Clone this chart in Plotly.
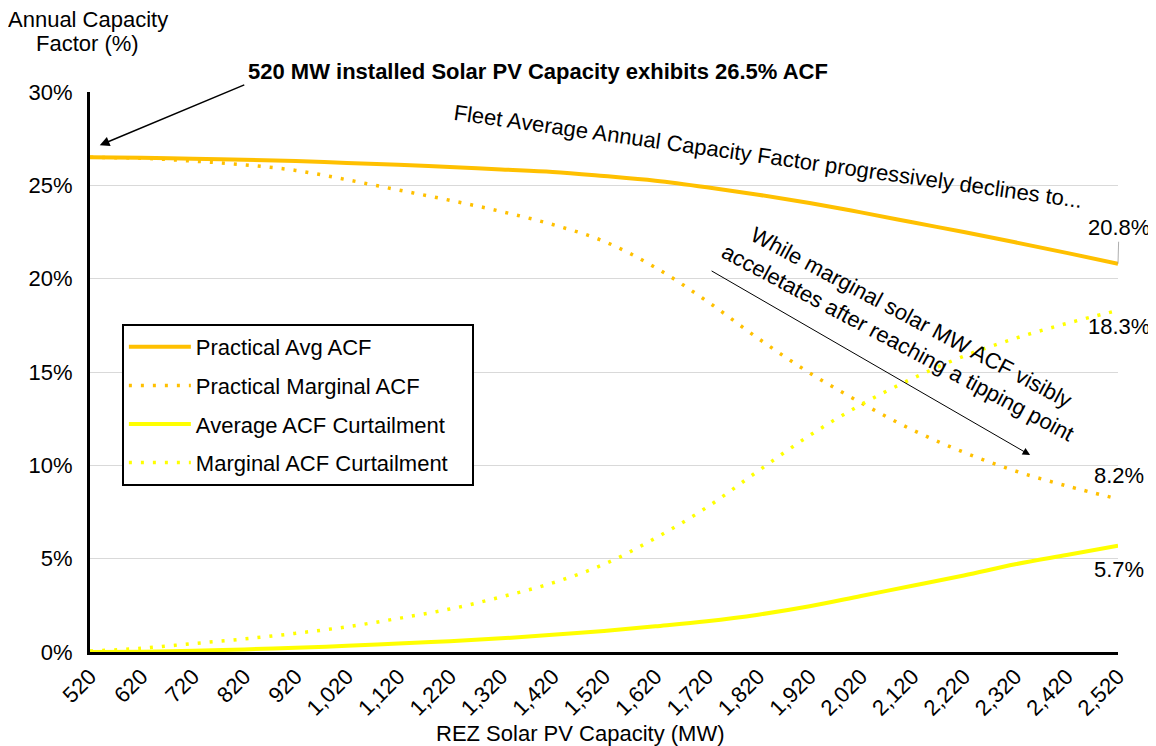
import plotly.graph_objects as go

# REZ solar PV capacity (MW)
capacity_mw = [520, 620, 720, 820, 920, 1020, 1120, 1220, 1320, 1420, 1520,
               1620, 1720, 1820, 1920, 2020, 2120, 2220, 2320, 2420, 2520]

# Annual capacity factor series (%)
practical_avg_acf = [26.5, 26.48, 26.43, 26.37, 26.3, 26.2, 26.1, 25.98, 25.85, 25.72, 25.5,
                     25.25, 24.9, 24.5, 24.05, 23.55, 23.02, 22.5, 21.95, 21.38, 20.8]
practical_marginal_acf = [26.5, 26.45, 26.3, 26.1, 25.8, 25.3, 24.75, 24.2, 23.6, 22.9, 22.0,
                          20.6, 18.8, 16.8, 14.95, 13.35, 11.9, 10.7, 9.7, 8.9, 8.2]
avg_acf_curtailment = [0.0, 0.02, 0.07, 0.14, 0.23, 0.33, 0.45, 0.58, 0.73, 0.92, 1.13,
                       1.38, 1.65, 2.0, 2.45, 3.0, 3.55, 4.1, 4.7, 5.2, 5.7]
marginal_acf_curtailment = [0.05, 0.2, 0.45, 0.7, 1.0, 1.35, 1.8, 2.3, 2.95, 3.7, 4.7,
                            6.1, 7.75, 9.7, 11.6, 13.25, 14.65, 15.85, 16.8, 17.6, 18.3]

y_ticks = [0, 5, 10, 15, 20, 25, 30]
y_tick_labels = [f"{v}%" for v in y_ticks]

ORANGE = "#FFC000"
YELLOW = "#FFFF00"
FONT = "Arial, Liberation Sans, sans-serif"
FS = 22

fig = go.Figure()

series = [
    ("Practical Avg ACF", practical_avg_acf, ORANGE, 4, "solid"),
    ("Practical Marginal ACF", practical_marginal_acf, ORANGE, 3.5, "3px,9px"),
    ("Average ACF Curtailment", avg_acf_curtailment, YELLOW, 4, "solid"),
    # trailing no-break spaces widen the legend box a little, like the original
    ("Marginal ACF Curtailment\u00a0\u00a0\u00a0", marginal_acf_curtailment, YELLOW, 3.5, "3px,9px"),
]
for name, vals, color, width, dash in series:
    fig.add_trace(go.Scatter(
        x=capacity_mw, y=vals, name=name, mode="lines",
        legendgroup=name,
        line=dict(color=color, width=width, dash=dash, shape="spline"),
    ))

# end-point value labels
end_labels = [
    (practical_avg_acf[-1], -36, True),
    (marginal_acf_curtailment[-1], -16, False),
    (practical_marginal_acf[-1], 23, False),
    (avg_acf_curtailment[-1], -24, False),
]
for val, shift, leader in end_labels:
    if leader:
        fig.add_annotation(
            x=capacity_mw[-1], y=val, text=f"{val:.1f}%",
            showarrow=True, arrowhead=0, arrowwidth=0.8, arrowcolor="#999999",
            ax=1, ay=shift, font=dict(size=FS, color="black", family=FONT),
        )
    else:
        fig.add_annotation(
            x=capacity_mw[-1], y=val, text=f"{val:.1f}%", showarrow=False,
            xshift=1, yshift=shift, font=dict(size=FS, color="black", family=FONT),
        )

# callout: starting point
fig.add_annotation(
    x=0.436, y=1.036, xref="paper", yref="paper", xanchor="center", yanchor="middle",
    text=f"<b>{capacity_mw[0]} MW installed Solar PV Capacity exhibits {practical_avg_acf[0]:.1f}% ACF</b>",
    showarrow=False, font=dict(size=FS, color="black", family=FONT),
)
fig.add_annotation(
    x=539, y=27.15, text="", showarrow=True,
    arrowhead=2, arrowsize=1.3, arrowwidth=1.5, arrowcolor="black",
    ax=146, ay=-61,
)

# rotated commentary
fig.add_annotation(
    x=0.6595, y=0.8857, xref="paper", yref="paper", xanchor="center", yanchor="middle",
    text="Fleet Average Annual Capacity Factor progressively declines to...",
    textangle=8, showarrow=False, font=dict(size=FS, color="black", family=FONT),
)
fig.add_annotation(
    x=0.792, y=0.575, xref="paper", yref="paper", xanchor="center", yanchor="middle",
    text="While marginal solar MW ACF visibly<br>acceletates after reaching a tipping point",
    textangle=28, showarrow=False, font=dict(size=FS, color="black", family=FONT),
)
fig.add_annotation(
    x=2349, y=10.55, text="", showarrow=True,
    arrowhead=2, arrowsize=1.5, arrowwidth=1, arrowcolor="black",
    ax=-320, ay=-185,
)

# y axis title, horizontal at top-left (two lines set separately for tighter spacing)
for line, ypx in [("Annual Capacity", 19), ("Factor (%)", 43)]:
    fig.add_annotation(
        x=-0.002, y=(652 - ypx) / 560, xref="paper", yref="paper",
        xanchor="center", yanchor="middle",
        text=line, showarrow=False,
        font=dict(size=FS, color="black", family=FONT),
    )

# x axis title, sits a little left of the plot centre
fig.add_annotation(
    x=0.4776, y=(652 - 733) / 560, xref="paper", yref="paper",
    xanchor="center", yanchor="middle",
    text="REZ Solar PV Capacity (MW)", showarrow=False,
    font=dict(size=FS, color="black", family=FONT),
)

# page body adds ~8px offset, margins compensate so plot area sits at 90..1118 x 92..652
fig.update_layout(
    width=1148, height=738,
    margin=dict(l=82, r=38, t=84, b=94),
    plot_bgcolor="white", paper_bgcolor="white",
    font=dict(family=FONT, size=FS, color="black"),
    showlegend=True,
    legend=dict(
        x=0.031, y=0.5857, xanchor="left", yanchor="top",
        bordercolor="black", borderwidth=2, bgcolor="white",
        font=dict(size=FS, color="black", family=FONT),
        tracegroupgap=7, itemwidth=62,
        traceorder="grouped",
    ),
    xaxis=dict(
        range=[capacity_mw[0], capacity_mw[-1]],
        tickvals=capacity_mw, tickformat=",d", tickangle=-45,
        showgrid=False, zeroline=False, automargin=False,
        showline=True, linecolor="black", linewidth=3,
        ticks="", tickfont=dict(size=FS),
    ),
    yaxis=dict(
        range=[0, 30], tickvals=y_ticks, ticktext=y_tick_labels,
        showgrid=True, gridcolor="#D9D9D9", gridwidth=1, automargin=False,
        zeroline=False, showline=True, linecolor="black", linewidth=3,
        ticks="", tickfont=dict(size=FS), ticklabelstandoff=10,
    ),
)

fig.write_html("out.html")
